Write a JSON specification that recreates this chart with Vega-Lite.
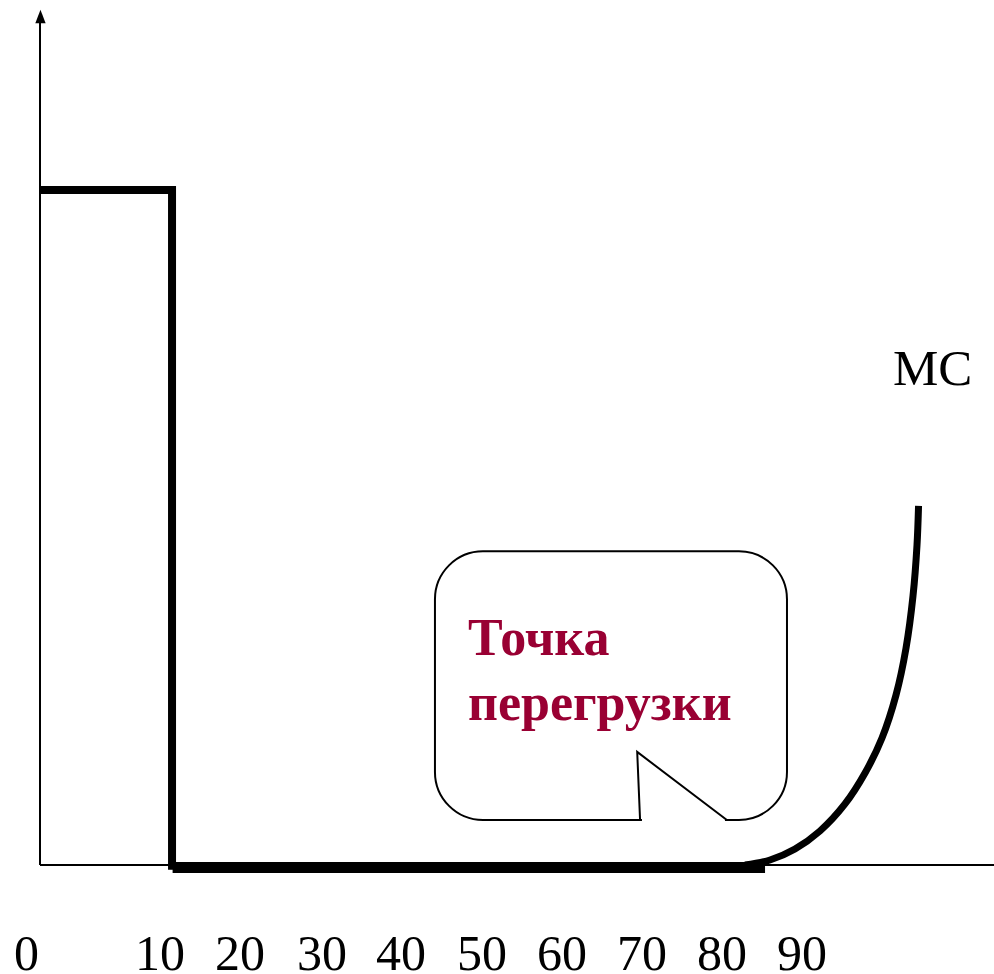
{
  "$schema": "https://vega.github.io/schema/vega-lite/v6.json",
  "autosize": {"type": "none"},
  "width": 994,
  "height": 974,
  "padding": 0,
  "background": "white",
  "config": {"view": {"stroke": null}},
  "datasets": {
    "axes": [
      {"name": "y", "x": 0, "x2": 0, "y": 0, "y2": 99.4},
      {"name": "x", "x": 0, "x2": 100, "y": 0, "y2": 0}
    ],
    "arrow": [{"x": 0.05, "y": 99.82}],
    "step": [
      {"order": 1, "x": 0, "y": 79.4},
      {"order": 2, "x": 13.84, "y": 79.4},
      {"order": 3, "x": 13.84, "y": -0.55}
    ],
    "floor": [
      {"order": 1, "x": 13.9, "y": -0.29},
      {"order": 2, "x": 76.0, "y": -0.29}
    ],
    "curve": [
      {"order": 1, "x": 73.9, "y": 0.0},
      {"order": 2, "x": 76.52, "y": 0.59},
      {"order": 3, "x": 79.14, "y": 1.88},
      {"order": 4, "x": 81.76, "y": 4.0},
      {"order": 5, "x": 84.38, "y": 7.18},
      {"order": 6, "x": 86.48, "y": 10.82},
      {"order": 7, "x": 88.26, "y": 14.94},
      {"order": 8, "x": 89.73, "y": 20.0},
      {"order": 9, "x": 90.78, "y": 25.53},
      {"order": 10, "x": 91.51, "y": 31.65},
      {"order": 11, "x": 91.93, "y": 37.65},
      {"order": 12, "x": 92.09, "y": 42.24}
    ],
    "bubble": [{"x": 41.4, "x2": 78.3, "y": 5.3, "y2": 36.9}],
    "gap": [{"x": 63.1, "x2": 71.8, "y": 5.3}],
    "tail": [
      {"order": 1, "x": 62.9, "y": 5.3},
      {"order": 2, "x": 62.6, "y": 13.3},
      {"order": 3, "x": 72.0, "y": 5.3}
    ],
    "note": [
      {"text": "Точка", "x": 44.86, "y": 24.7},
      {"text": "перегрузки", "x": 44.86, "y": 17.06}
    ],
    "mc": [{"text": "MC", "x": 89.4, "y": 56.5}],
    "ticks": [
      {"text": "0", "x": -1.42, "y": -12.4},
      {"text": "10", "x": 12.58, "y": -12.4},
      {"text": "20", "x": 20.96, "y": -12.4},
      {"text": "30", "x": 29.56, "y": -12.4},
      {"text": "40", "x": 37.84, "y": -12.4},
      {"text": "50", "x": 46.33, "y": -12.4},
      {"text": "60", "x": 54.72, "y": -12.4},
      {"text": "70", "x": 63.1, "y": -12.4},
      {"text": "80", "x": 71.49, "y": -12.4},
      {"text": "90", "x": 79.87, "y": -12.4}
    ]
  },
  "encoding": {
    "x": {"field": "x", "type": "quantitative", "axis": null,
          "scale": {"domain": [-4.193, 100], "nice": false, "zero": false}},
    "y": {"field": "y", "type": "quantitative", "axis": null,
          "scale": {"domain": [-12.824, 101.765], "nice": false, "zero": false}}
  },
  "layer": [
    {
      "data": {"name": "axes"},
      "mark": {"type": "rule", "color": "black", "strokeWidth": 2},
      "encoding": {
        "x2": {"field": "x2"},
        "y2": {"field": "y2"}
      }
    },
    {
      "data": {"name": "arrow"},
      "mark": {"type": "point", "filled": true, "color": "black", "opacity": 1,
               "shape": "M0,-1L0.77,1L-0.77,1Z", "size": 180}
    },
    {
      "data": {"name": "bubble"},
      "mark": {"type": "rect", "fill": "white", "stroke": "black", "strokeWidth": 2, "cornerRadius": 48},
      "encoding": {
        "x2": {"field": "x2"},
        "y2": {"field": "y2"}
      }
    },
    {
      "data": {"name": "gap"},
      "mark": {"type": "rule", "color": "white", "strokeWidth": 5},
      "encoding": {"x2": {"field": "x2"}}
    },
    {
      "data": {"name": "tail"},
      "mark": {"type": "line", "color": "black", "strokeWidth": 2},
      "encoding": {"order": {"field": "order"}}
    },
    {
      "data": {"name": "step"},
      "mark": {"type": "line", "color": "black", "strokeWidth": 8, "strokeJoin": "miter", "strokeCap": "butt"},
      "encoding": {"order": {"field": "order"}}
    },
    {
      "data": {"name": "floor"},
      "mark": {"type": "line", "color": "black", "strokeWidth": 11, "strokeCap": "butt"},
      "encoding": {"order": {"field": "order"}}
    },
    {
      "data": {"name": "curve"},
      "mark": {"type": "line", "color": "black", "strokeWidth": 7, "interpolate": "catmull-rom", "strokeCap": "butt"},
      "encoding": {"order": {"field": "order"}}
    },
    {
      "data": {"name": "note"},
      "mark": {"type": "text", "align": "left", "baseline": "alphabetic", "font": "Liberation Serif",
               "fontWeight": "bold", "fontSize": 52, "color": "#990033"},
      "encoding": {"text": {"field": "text"}}
    },
    {
      "data": {"name": "mc"},
      "mark": {"type": "text", "align": "left", "baseline": "alphabetic", "font": "Liberation Serif",
               "fontSize": 51, "color": "black"},
      "encoding": {"text": {"field": "text"}}
    },
    {
      "data": {"name": "ticks"},
      "mark": {"type": "text", "align": "center", "baseline": "alphabetic", "font": "Liberation Serif",
               "fontSize": 50, "color": "black"},
      "encoding": {"text": {"field": "text"}}
    }
  ]
}
